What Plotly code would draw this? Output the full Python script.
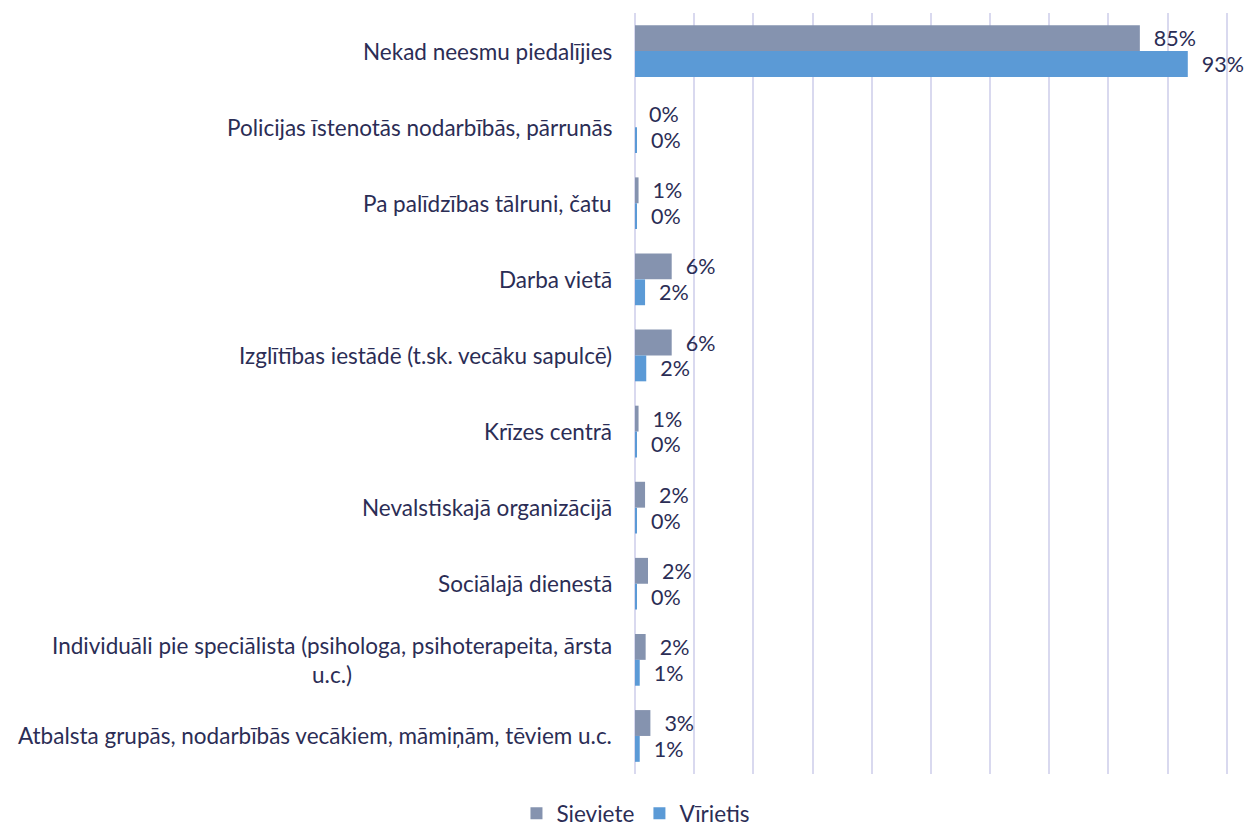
import plotly.graph_objects as go

categories = [
    "Nekad neesmu piedalījies",
    "Policijas īstenotās nodarbībās, pārrunās",
    "Pa palīdzības tālruni, čatu",
    "Darba vietā",
    "Izglītības iestādē (t.sk. vecāku sapulcē)",
    "Krīzes centrā",
    "Nevalstiskajā organizācijā",
    "Sociālajā dienestā",
    "Individuāli pie speciālista (psihologa, psihoterapeita, ārsta<br>u.c.)",
    "Atbalsta grupās, nodarbībās vecākiem, māmiņām, tēviem u.c.",
]
sieviete = [85.3, 0.0, 0.6, 6.2, 6.2, 0.6, 1.7, 2.2, 1.8, 2.6]
virietis = [93.4, 0.3, 0.3, 1.7, 1.9, 0.2, 0.3, 0.3, 0.8, 0.8]
series_names = ["Sieviete", "Vīrietis"]

TXT = "#2b2d55"
FONT = "Lato, 'Open Sans', sans-serif"
NB = "\u00a0"

fig = go.Figure()
for name, vals, col in [(series_names[0], sieviete, "#8593af"),
                        (series_names[1], virietis, "#5b9ad6")]:
    fig.add_trace(go.Bar(
        y=categories, x=vals, name=name, orientation="h",
        marker=dict(color=col, line=dict(width=0)),
        text=[f"{NB * 2}{round(v):.0f}%" for v in vals],
        textposition="outside", cliponaxis=False, constraintext="none",
        textfont=dict(size=21.5, color=TXT, family=FONT),
    ))

for c in categories:
    fig.add_annotation(x=0, xref="paper", y=c, yref="y", text=c,
                       xanchor="right", yanchor="middle", align="center",
                       xshift=-21, showarrow=False,
                       font=dict(size=22.5, color=TXT, family=FONT))

fig.update_layout(
    width=1247, height=835,
    margin=dict(l=635, r=16, t=13, b=61),
    barmode="group", bargap=0.32, bargroupgap=0,
    plot_bgcolor="white", paper_bgcolor="white",
    font=dict(family=FONT, size=22.5, color=TXT),
    showlegend=True,
    legend=dict(orientation="h", xref="container", x=0.51, xanchor="center",
                yref="container", y=-0.012, yanchor="bottom",
                font=dict(size=22.5, color=TXT, family=FONT), itemwidth=30),
    xaxis=dict(range=[0, 100.7], tickvals=[10, 20, 30, 40, 50, 60, 70, 80, 90, 100],
               showgrid=True, gridcolor="#d9d9ef", gridwidth=2,
               showticklabels=False, zeroline=True, zerolinecolor="#d9d9ef", zerolinewidth=2,
               showline=False, fixedrange=True),
    yaxis=dict(autorange="reversed", showticklabels=False, showgrid=False,
               showline=False, ticks=""),
)

fig.write_html("out.html", config={"displayModeBar": False},
               post_script="document.body.style.margin='0px';")
